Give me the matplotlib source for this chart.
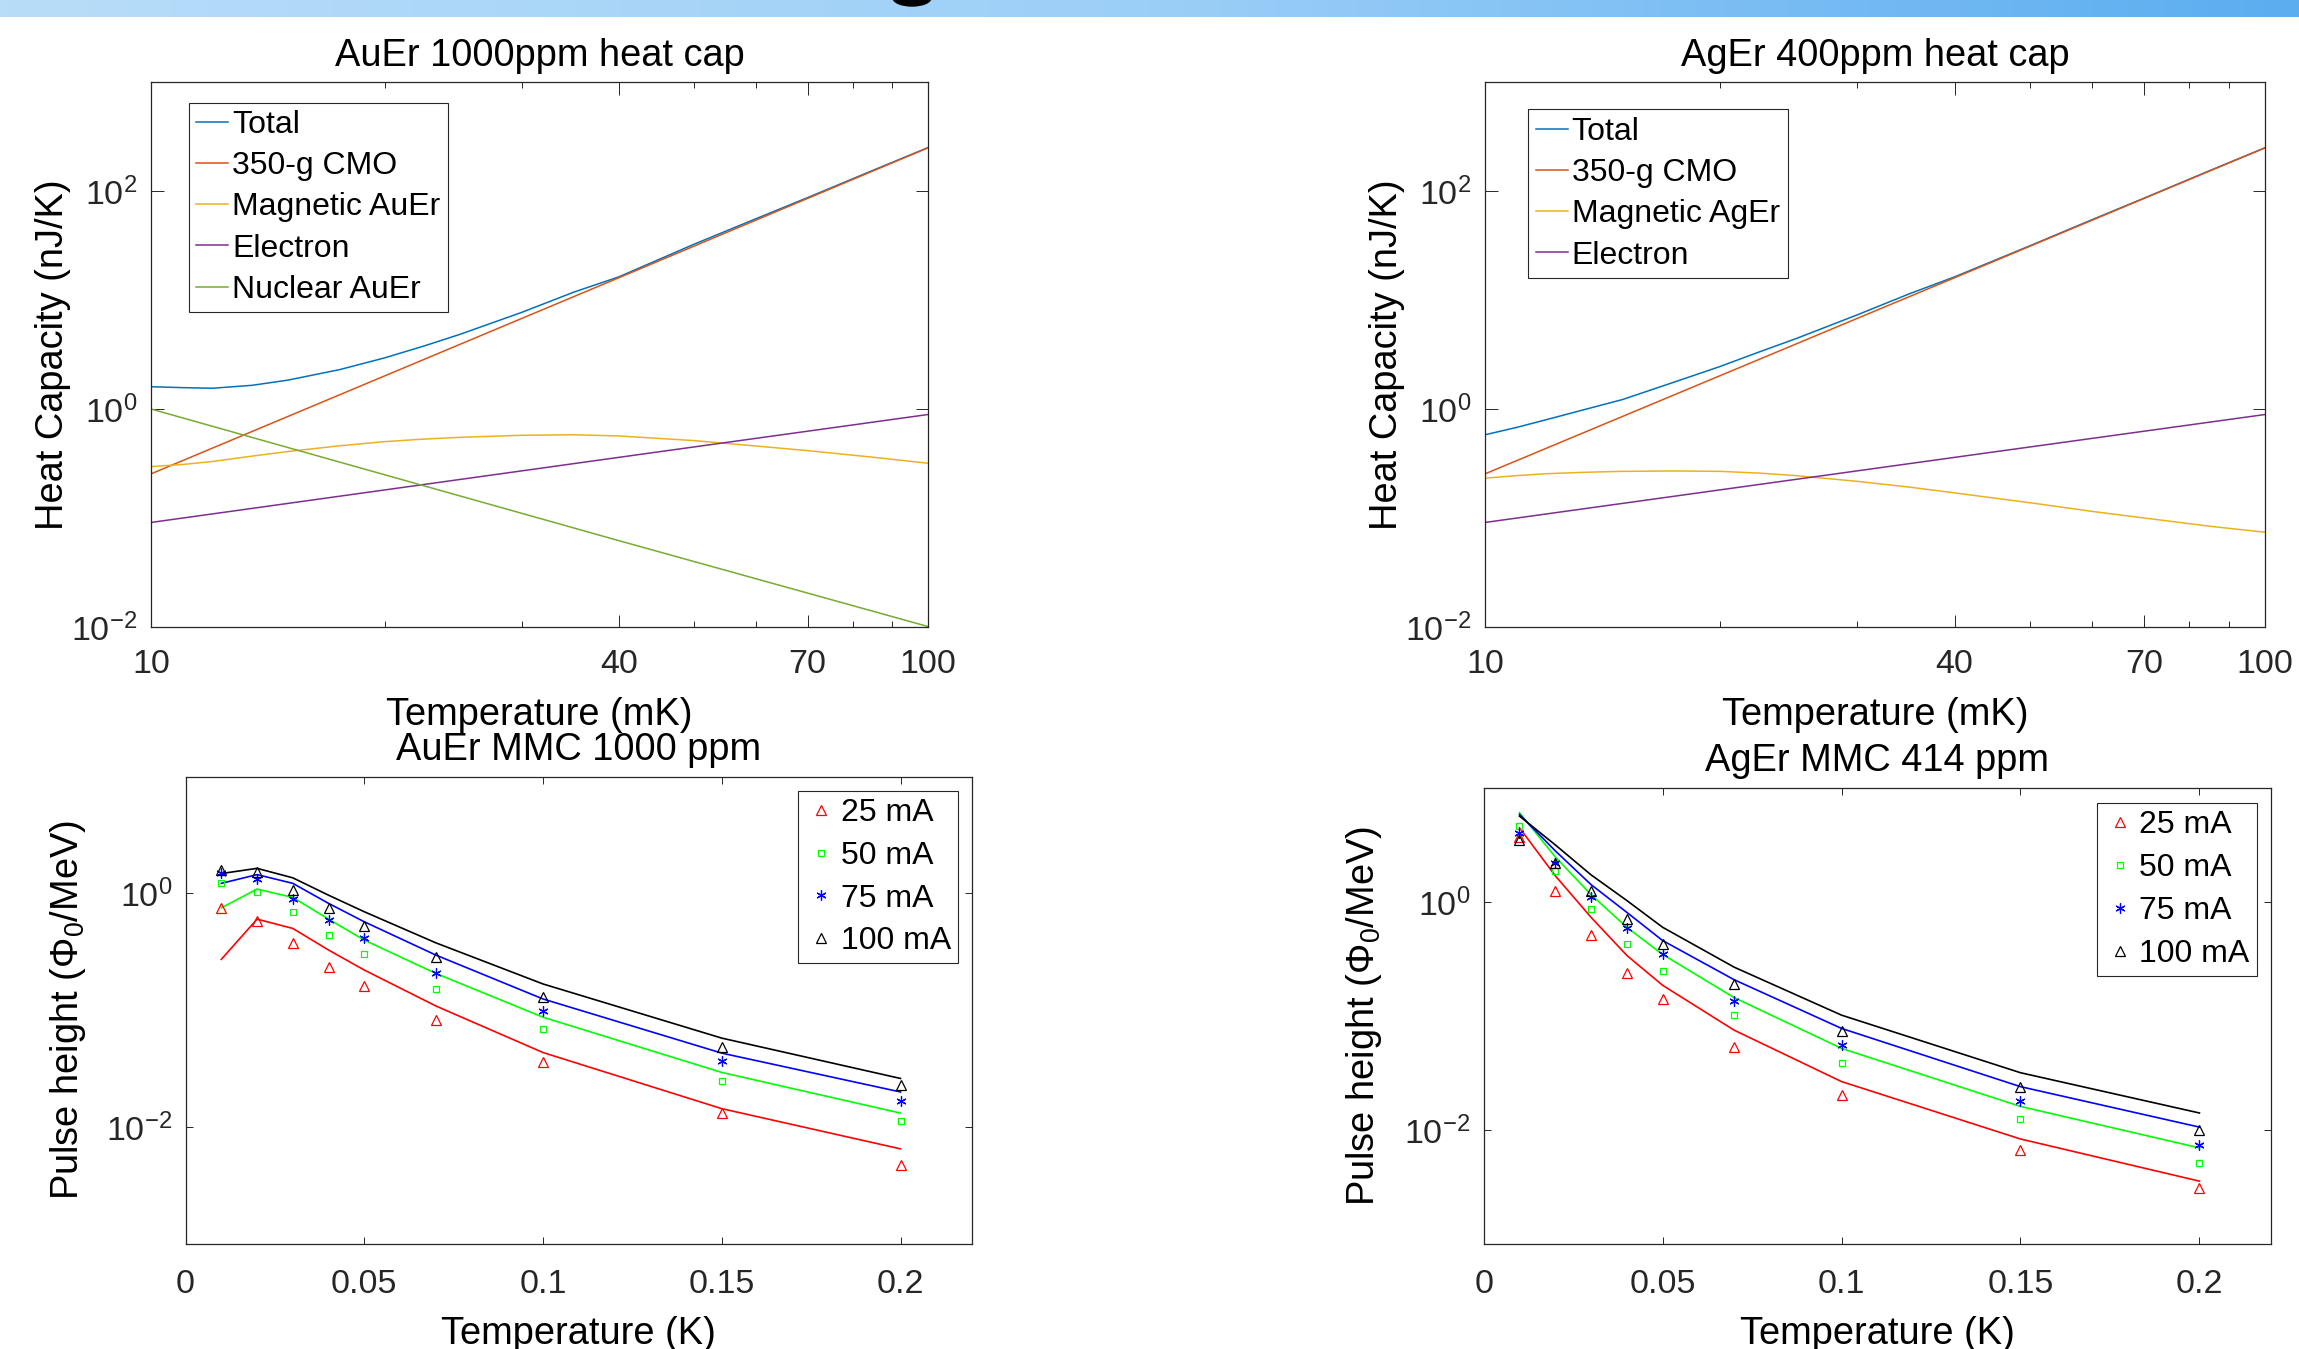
import matplotlib
matplotlib.use("Agg")
import matplotlib.pyplot as plt
import numpy as np
from matplotlib.colors import LinearSegmentedColormap
from matplotlib.patches import Ellipse
from matplotlib.ticker import NullFormatter, NullLocator

plt.rcParams["font.family"] = ["Liberation Sans", "DejaVu Sans"]
plt.rcParams["mathtext.fontset"] = "custom"
plt.rcParams["mathtext.rm"] = "Liberation Sans"
plt.rcParams["mathtext.it"] = "Liberation Sans:italic"
plt.rcParams["mathtext.default"] = "regular"
plt.rcParams["axes.unicode_minus"] = False

# ---------------- heat capacity (nJ/K) vs temperature (mK) ----------------
T_CURVE = [10, 11, 12, 13.5, 15, 17.5, 20, 22.5, 25, 30, 35, 40, 50, 60, 70, 85, 100]
AUER_TOTAL = [1.60, 1.57, 1.55, 1.65, 1.84, 2.30, 2.95, 3.8, 4.85, 7.7, 11.8, 16.3,
              32.5, 55.5, 87, 155, 250]
AUER_MAGNETIC = [0.296, 0.31, 0.33, 0.37, 0.407, 0.46, 0.502, 0.53, 0.55, 0.574, 0.58,
                 0.566, 0.513, 0.458, 0.415, 0.361, 0.318]
AGER_TOTAL = [0.58, 0.68, 0.80, 1.0, 1.22, 1.77, 2.45, 3.35, 4.4, 7.3, 11.4, 16.3,
              31.5, 54.5, 86, 154, 249]
AGER_MAGNETIC = [0.232, 0.245, 0.255, 0.263, 0.268, 0.27, 0.268, 0.258, 0.245, 0.217,
                 0.192, 0.170, 0.138, 0.115, 0.100, 0.084, 0.074]

T_LINE = [10, 40, 100]
CMO = [0.254, 16.0, 249]
ELECTRON = [0.091, 0.36, 0.89]
AUER_NUCLEAR = [1.0, 0.062, 0.0101]

# ---------------- pulse height (Phi0/MeV) vs temperature (K) ----------------
T_K = [0.01, 0.02, 0.03, 0.04, 0.05, 0.07, 0.1, 0.15, 0.2]
CURRENTS = ["25 mA", "50 mA", "75 mA", "100 mA"]

AUER_MEAS = [
    [0.753, 0.583, 0.374, 0.236, 0.161, 0.0828, 0.036, 0.0132, 0.00479],
    [1.22, 1.02, 0.688, 0.44, 0.301, 0.152, 0.0689, 0.0248, 0.0114],
    [1.51, 1.32, 0.889, 0.591, 0.418, 0.207, 0.0994, 0.0365, 0.0169],
    [1.60, 1.53, 1.08, 0.749, 0.526, 0.288, 0.131, 0.049, 0.0228],
]
AUER_SIM = [
    [0.273, 0.603, 0.502, 0.328, 0.221, 0.109, 0.0435, 0.0144, 0.00652],
    [0.753, 1.09, 0.925, 0.603, 0.399, 0.207, 0.0873, 0.0294, 0.0132],
    [1.22, 1.45, 1.22, 0.822, 0.572, 0.297, 0.125, 0.043, 0.020],
    [1.48, 1.64, 1.36, 0.966, 0.697, 0.378, 0.168, 0.0578, 0.0261],
]
AGER_MEAS = [
    [3.7, 1.24, 0.515, 0.24, 0.142, 0.0537, 0.0203, 0.00664, 0.00311],
    [4.64, 1.88, 0.869, 0.43, 0.246, 0.1017, 0.0385, 0.0125, 0.00515],
    [4.06, 2.19, 1.10, 0.593, 0.347, 0.136, 0.0556, 0.0178, 0.00745],
    [3.48, 2.22, 1.24, 0.71, 0.43, 0.19, 0.0736, 0.0238, 0.01006],
]
AGER_SIM = [
    [4.48, 1.70, 0.734, 0.34, 0.186, 0.0751, 0.0266, 0.00834, 0.00356],
    [6.06, 2.49, 1.16, 0.60, 0.347, 0.145, 0.052, 0.0161, 0.00697],
    [5.87, 2.81, 1.42, 0.811, 0.459, 0.208, 0.0778, 0.024, 0.0106],
    [5.67, 3.17, 1.73, 1.03, 0.60, 0.268, 0.1017, 0.0318, 0.0141],
]

MATLAB_COLORS = ["#0072BD", "#D95319", "#EDB120", "#7E2F8E", "#77AC30"]
PULSE_COLORS = ["#ff0000", "#00ff00", "#0000ff", "#000000"]
PULSE_MARKERS = ["^", "s", (6, 2, 0), "^"]
PULSE_MS = [7, 4.8, 7.2, 7]

AX_COLOR = "#262626"
W, H = 2299, 1349


def px_rect(left, top, right, bottom):
    return [left / W, 1 - bottom / H, (right - left) / W, (bottom - top) / H]


def style_axes(ax, major_len, minor_len, xpad, ypad):
    for sp in ax.spines.values():
        sp.set_color(AX_COLOR)
        sp.set_linewidth(0.9)
    ax.tick_params(which="both", direction="in", top=True, right=True,
                   color=AX_COLOR, labelcolor=AX_COLOR, width=0.7, labelsize=24.5)
    ax.tick_params(which="major", length=major_len)
    ax.tick_params(which="minor", length=minor_len)
    ax.tick_params(axis="x", pad=xpad)
    ax.tick_params(axis="y", pad=ypad)


def heat_cap_axes(fig, rect, title, curves, anchor, borderpad):
    ax = fig.add_axes(rect)
    for x, y, label, color in curves:
        ax.plot(x, y, color=color, lw=1.1, label=label)
    ax.set_xscale("log")
    ax.set_yscale("log")
    ax.set_xlim(10, 100)
    ax.set_ylim(1e-2, 1e3)
    ax.set_xticks([10, 40, 70, 100], labels=["10", "40", "70", "100"])
    ax.set_xticks([20, 30, 50, 60, 80, 90], minor=True)
    ax.xaxis.set_minor_formatter(NullFormatter())
    ax.set_yticks([1e-2, 1, 1e2])
    ax.yaxis.set_minor_locator(NullLocator())
    style_axes(ax, 9, 4.5, 16, 10)
    ax.set_title(title, fontsize=27.4, pad=11.5)
    ax.set_xlabel("Temperature (mK)", fontsize=27.4)
    ax.set_ylabel("Heat Capacity (nJ/K)", fontsize=27.4)
    ax.xaxis.set_label_coords(0.5, -0.128)
    ax.yaxis.set_label_coords(-0.103, 0.5)
    leg = ax.legend(loc="upper left", bbox_to_anchor=anchor, borderaxespad=0,
                    fontsize=23, handlelength=1.0, handletextpad=0.12,
                    borderpad=borderpad, labelspacing=0.35, fancybox=False,
                    framealpha=1, edgecolor=AX_COLOR)
    leg.get_frame().set_linewidth(0.8)
    return ax


def pulse_axes(fig, rect, title, meas, sim, anchor, ylabel_x, xlabel_y):
    ax = fig.add_axes(rect)
    for vals, color in zip(sim, PULSE_COLORS):
        ax.plot(T_K, vals, color=color, lw=1.2)
    for vals, color, marker, ms, label in zip(meas, PULSE_COLORS, PULSE_MARKERS, PULSE_MS, CURRENTS):
        ax.plot(T_K, vals, ls="none", marker=marker, ms=ms, mfc="none",
                mec=color, mew=0.9, label=label)
    ax.set_yscale("log")
    ax.set_xlim(0, 0.22)
    ax.set_ylim(1e-3, 10)
    ax.set_xticks([0, 0.05, 0.1, 0.15, 0.2], labels=["0", "0.05", "0.1", "0.15", "0.2"])
    ax.set_yticks([1e-2, 1])
    ax.yaxis.set_minor_locator(NullLocator())
    style_axes(ax, 5, 3, 18, 9.5)
    ax.set_title(title, fontsize=27.4, pad=12)
    ax.set_xlabel("Temperature (K)", fontsize=27.4)
    ax.set_ylabel(r"Pulse height ($\Phi_0$/MeV)", fontsize=27.4)
    ax.xaxis.set_label_coords(0.5, xlabel_y)
    ax.yaxis.set_label_coords(ylabel_x, 0.5)
    leg = ax.legend(loc="upper right", bbox_to_anchor=anchor, borderaxespad=0,
                    fontsize=23, handlelength=1.0, handletextpad=0.12,
                    borderpad=0.22, labelspacing=0.40, fancybox=False,
                    framealpha=1, edgecolor=AX_COLOR)
    leg.get_frame().set_linewidth(0.8)
    return ax


fig = plt.figure(figsize=(W / 100, H / 100), dpi=100)

# slide banner at the top
bax = fig.add_axes([0, 1 - 17 / H, 1, 17 / H])
banner = LinearSegmentedColormap.from_list("banner", ["#b8ddf9", "#9ccff7", "#5badf0"])
bax.imshow(np.linspace(0, 1, 512)[None, :], aspect="auto", cmap=banner,
           extent=[0, W, 17, 0])
bax.add_patch(Ellipse((912, -2), 38, 16, color="black"))
bax.set_xlim(0, W)
bax.set_ylim(17, 0)
bax.axis("off")

heat_cap_axes(
    fig, px_rect(151, 82, 928, 627), "AuEr 1000ppm heat cap",
    [
        (T_CURVE, AUER_TOTAL, "Total", MATLAB_COLORS[0]),
        (T_LINE, CMO, "350-g CMO", MATLAB_COLORS[1]),
        (T_CURVE, AUER_MAGNETIC, "Magnetic AuEr", MATLAB_COLORS[2]),
        (T_LINE, ELECTRON, "Electron", MATLAB_COLORS[3]),
        (T_LINE, AUER_NUCLEAR, "Nuclear AuEr", MATLAB_COLORS[4]),
    ],
    (0.049, 0.962), 0.23,
)
heat_cap_axes(
    fig, px_rect(1485, 82, 2265, 627), "AgEr 400ppm heat cap",
    [
        (T_CURVE, AGER_TOTAL, "Total", MATLAB_COLORS[0]),
        (T_LINE, CMO, "350-g CMO", MATLAB_COLORS[1]),
        (T_CURVE, AGER_MAGNETIC, "Magnetic AgEr", MATLAB_COLORS[2]),
        (T_LINE, ELECTRON, "Electron", MATLAB_COLORS[3]),
    ],
    (0.0555, 0.9497), 0.24,
)

pulse_axes(fig, px_rect(185.6, 776.6, 972, 1244), "AuEr MMC 1000 ppm",
           AUER_MEAS, AUER_SIM, (0.9822, 0.9692), -0.124, -0.154)
pulse_axes(fig, px_rect(1483.7, 788, 2271, 1244), "AgEr MMC 414 ppm",
           AGER_MEAS, AGER_SIM, (0.9817, 0.9662), -0.127, -0.158)

fig.savefig("out.png", dpi=100)
